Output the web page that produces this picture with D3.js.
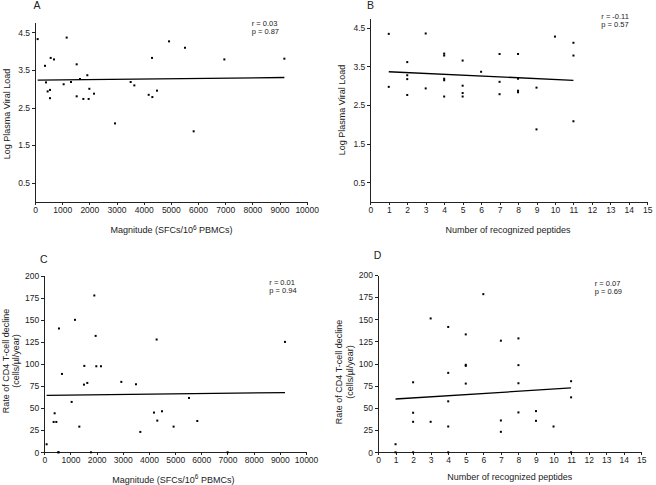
<!DOCTYPE html>
<html><head><meta charset="utf-8">
<script src="https://cdn.jsdelivr.net/npm/d3@7"></script>
<style>
body{margin:0;background:#fff;}
svg{display:block;font-family:"Liberation Sans",Arial,sans-serif;}
.axis path,.axis line{stroke:#222;stroke-width:1;shape-rendering:crispEdges;}
.axis text{fill:#222;font-size:8.5px;font-family:"Liberation Sans",Arial,sans-serif;}
</style></head><body>
<script>
// Panel A: magnitude vs log plasma viral load
const magA = [98,368,405,466,552,552,577,699,1055,1166,1325,1534,1534,1656,1779,1926,1975,2000,2172,2945,3521,3656,4184,4307,4319,4490,4933,5521,5840,6969,9178];
const vlA  = [4.32,3.61,3.17,2.93,2.97,2.75,3.82,3.78,3.12,4.36,3.18,3.65,2.80,3.26,2.73,3.36,2.73,3.00,2.87,2.08,3.18,3.09,2.84,3.82,2.78,2.95,4.26,4.09,1.87,3.78,3.80];
const fitAx = [98,9178], fitAy = [3.23,3.30];
// Panel B: number of recognized peptides vs log plasma viral load
const pepB = [1,1,2,2,2,2,3,3,4,4,4,4,4,5,5,5,5,6,7,7,7,8,8,8,8,9,9,10,11,11,11];
const vlB  = [4.34,2.97,3.61,3.27,3.17,2.76,4.35,2.93,3.83,3.78,3.18,3.14,2.72,3.65,3.00,2.81,2.72,3.36,3.82,3.10,2.78,3.82,3.18,2.87,2.83,2.95,1.87,4.27,4.11,3.78,2.08];
const fitBx = [1,11], fitBy = [3.36,3.14];
// Panel C: magnitude vs rate of CD4 decline
const magC = [89,357,395,459,535,545,560,675,1045,1172,1338,1516,1529,1643,1783,1911,1962,1987,2166,2943,3503,3669,4191,4293,4318,4497,4941,5529,5846,7005,9197];
const decC = [9.1,34.4,44.2,34.4,0,0,140.3,88.8,57.1,150.1,29.1,76.7,97.9,78.6,0,177.7,131.9,97.5,97.5,79.8,77.1,23.1,45.0,127.8,35.9,46.5,29.1,61.6,35.5,0,125.1];
const fitCx = [89,9197], fitCy = [64.6,67.7];
// Panel D: number of recognized peptides vs rate of CD4 decline
const pepD = [1,1,2,2,2,2,3,3,4,4,4,4,4,5,5,5,5,6,7,7,7,8,8,8,8,9,9,10,11,11,11];
const decD = [9.1,0,79,44.6,34.4,0,151,34.4,141.4,89.6,57.5,29.1,0,133,98.7,97.5,77.5,178.4,125.9,35.9,23.1,128.5,98.3,77.9,45,46.5,35.5,29.1,80.2,62,0];
const fitDx = [1,11], fitDy = [60.1,72.6];

const magTicks = [0,1000,2000,3000,4000,5000,6000,7000,8000,9000,10000];
const pepTicks = d3.range(0,16);
const vlTicks = [0.5,1.5,2.5,3.5,4.5];
const decTicks = [0,25,50,75,100,125,150,175,200];

const svg = d3.select("body").append("svg").attr("width",656).attr("height",485);

function panel(o){
  const x = d3.scaleLinear().domain(o.xd).range(o.xr);
  const y = d3.scaleLinear().domain(o.yd).range(o.yr);
  const g = svg.append("g");
  g.append("g").attr("class","axis").attr("transform",`translate(0,${o.yr[0]})`)
    .call(d3.axisBottom(x).tickValues(o.xt).tickSize(3).tickSizeOuter(0).tickPadding(2).tickFormat(d3.format("d")));
  g.append("g").attr("class","axis").attr("transform",`translate(${o.xr[0]},0)`)
    .call(d3.axisLeft(y).tickValues(o.yt).tickSize(3).tickSizeOuter(0).tickPadding(2).tickFormat(o.yf));
  // fit line
  g.append("line").attr("x1",x(o.fx[0])).attr("x2",x(o.fx[1]))
    .attr("y1",y(o.fy[0])).attr("y2",y(o.fy[1])).attr("stroke","#000").attr("stroke-width",1.3);
  // points
  g.selectAll("rect.pt").data(o.xs.map((v,i)=>[v,o.ys[i]])).enter().append("rect")
    .attr("x",d=>x(d[0])-1).attr("y",d=>y(d[1])-1).attr("width",2).attr("height",2).attr("fill","#000");
  // panel label
  g.append("text").attr("x",o.lab[1]).attr("y",o.lab[2]).attr("font-size",10.5).attr("fill","#222").text(o.lab[0]);
  // stats
  g.append("text").attr("x",o.st[0]).attr("y",o.st[1]).attr("font-size",7.5).attr("fill","#222").text(o.st[2]);
  g.append("text").attr("x",o.st[0]).attr("y",o.st[1]+8).attr("font-size",7.5).attr("fill","#222").text(o.st[3]);
  // x title
  const xt = g.append("text").attr("x",o.xtp[0]).attr("y",o.xtp[1]).attr("text-anchor","middle").attr("font-size",9).attr("fill","#222");
  if(o.mag){
    xt.append("tspan").text("Magnitude (SFCs/10");
    xt.append("tspan").attr("dy",-3.5).attr("font-size",6.5).text("6");
    xt.append("tspan").attr("dy",3.5).text(" PBMCs)");
  } else xt.text("Number of recognized peptides");
  // y title
  o.ytl.forEach(t=>{
    g.append("text").attr("transform",`translate(${t[0]},${t[1]}) rotate(-90)`).attr("text-anchor","middle")
      .attr("font-size",9).attr("fill","#222").text(t[2]);
  });
}

panel({xd:[0,10000],xr:[35,306.7],yd:[0,4.75],yr:[201.7,201.7-4.75*37.64],xt:magTicks,yt:vlTicks,yf:d3.format(".1f"),
  xs:magA,ys:vlA,fx:fitAx,fy:fitAy,lab:["A",33.5,8.5],st:[251.7,25.5,"r = 0.03","p = 0.87"],xtp:[171.5,233],mag:true,
  ytl:[[10,114,"Log Plasma Viral Load"]]});
panel({xd:[0,15],xr:[370.3,647.3],yd:[0,4.75],yr:[201.7,201.7-4.75*38.67],xt:pepTicks,yt:vlTicks,yf:d3.format(".1f"),
  xs:pepB,ys:vlB,fx:fitBx,fy:fitBy,lab:["B",367,9.3],st:[601.3,19,"r = -0.11","p = 0.57"],xtp:[508,233],mag:false,
  ytl:[[345,110,"Log Plasma Viral Load"]]});
panel({xd:[0,10000],xr:[44.3,306],yd:[0,200],yr:[452.3,275.8],xt:magTicks,yt:decTicks,yf:d3.format("d"),
  xs:magC,ys:decC,fx:fitCx,fy:fitCy,lab:["C",40,262.7],st:[269.3,285,"r = 0.01","p = 0.94"],xtp:[173.3,482.5],mag:true,
  ytl:[[8.5,361,"Rate of CD4 T-cell decline"],[18.5,361,"(cells/\u00b5l/year)"]]});
panel({xd:[0,15],xr:[378,641.3],yd:[0,200],yr:[452.3,275],xt:pepTicks,yt:decTicks,yf:d3.format("d"),
  xs:pepD,ys:decD,fx:fitDx,fy:fitDy,lab:["D",373.7,259.3],st:[594.7,286,"r = 0.07","p = 0.69"],xtp:[509.7,480],mag:false,
  ytl:[[342,372,"Rate of CD4 T-cell decline"],[352.5,372,"(cells/\u00b5l/year)"]]});
</script>
</body></html>
